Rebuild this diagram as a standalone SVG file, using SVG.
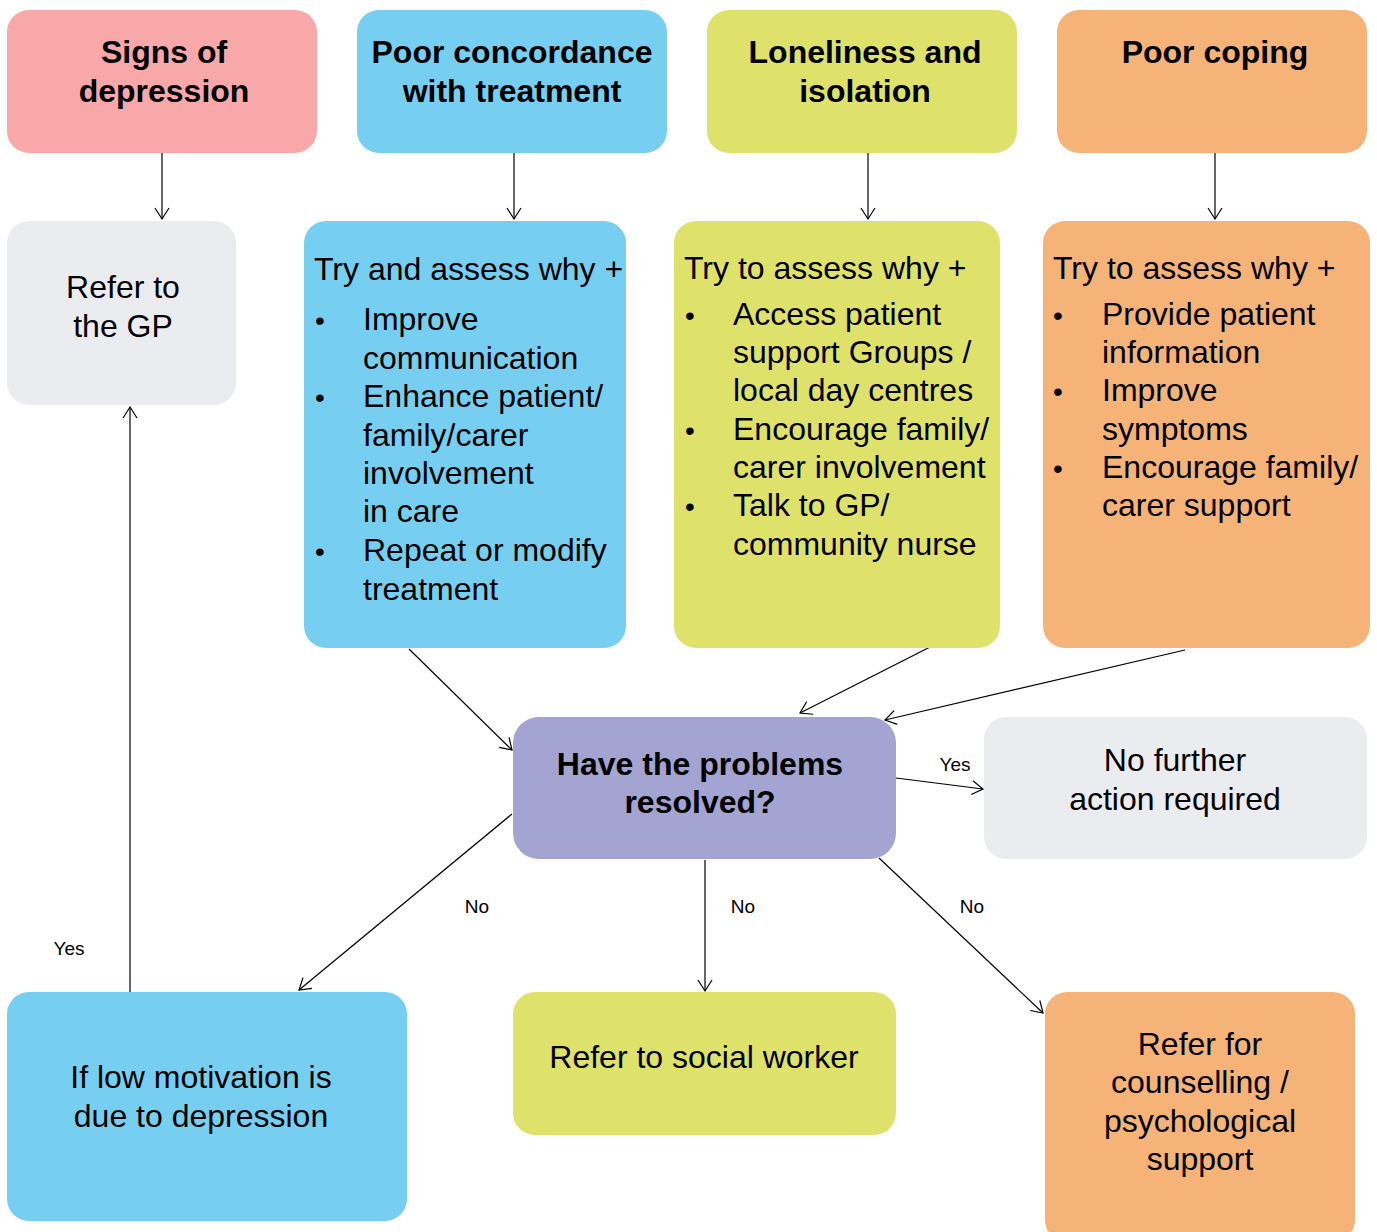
<svg xmlns="http://www.w3.org/2000/svg" width="1377" height="1232" viewBox="0 0 1377 1232">
<style>
.pink{fill:#F9A8AA}.blue{fill:#76CFF0}.green{fill:#DEE26A}.orange{fill:#F6B378}.grey{fill:#EBECF0}.purple{fill:#A3A4D2}
.h{font-family:"Liberation Sans",Arial,sans-serif;font-weight:bold;font-size:32px;fill:#000;text-anchor:middle}
.t{font-family:"Liberation Sans",Arial,sans-serif;font-size:32px;fill:#000}
.b{font-size:28px}
.c{text-anchor:middle}
.l{font-family:"Liberation Sans",Arial,sans-serif;font-size:19px;fill:#000;text-anchor:middle}
.e{stroke:#000;stroke-width:1.2;fill:none;marker-end:url(#a)}
</style>
<defs>
<marker id="a" markerUnits="userSpaceOnUse" markerWidth="14" markerHeight="18" refX="12" refY="8" orient="auto" viewBox="0 0 14 16">
<path d="M1,1 L12,8 L1,15" fill="none" stroke="#000" stroke-width="1.2"/>
</marker>
</defs>
<rect width="1377" height="1232" fill="#fff"/>
<g id="connectors">
<line class="e" x1="162" y1="153" x2="162" y2="219"/>
<line class="e" x1="514" y1="153" x2="514" y2="219"/>
<line class="e" x1="868" y1="153" x2="868" y2="219"/>
<line class="e" x1="1215" y1="153" x2="1215" y2="219"/>
<line class="e" x1="130" y1="992" x2="130" y2="407"/>
<line class="e" x1="409" y1="649" x2="512" y2="750"/>
<line class="e" x1="934" y1="645" x2="800" y2="713"/>
<line class="e" x1="1185" y1="650" x2="885" y2="720"/>
<line class="e" x1="896" y1="778" x2="983" y2="789"/>
<line class="e" x1="512" y1="814" x2="299" y2="990"/>
<line class="e" x1="705" y1="860" x2="705" y2="991"/>
<line class="e" x1="879" y1="858" x2="1043" y2="1013"/>
<text class="l" x="955" y="771">Yes</text>
<text class="l" x="477" y="913">No</text>
<text class="l" x="743" y="913">No</text>
<text class="l" x="972" y="913">No</text>
<text class="l" x="69" y="955">Yes</text>
</g>
<g id="signs">
<rect class="pink" x="7" y="10" width="310" height="143" rx="22"/>
<text class="h" x="164" y="63">Signs of</text>
<text class="h" x="164" y="102">depression</text>
</g>
<g id="concordance">
<rect class="blue" x="357" y="10" width="310" height="143" rx="22"/>
<text class="h" x="512" y="63">Poor concordance</text>
<text class="h" x="512" y="102">with treatment</text>
</g>
<g id="loneliness">
<rect class="green" x="707" y="10" width="310" height="143" rx="22"/>
<text class="h" x="865" y="63">Loneliness and</text>
<text class="h" x="865" y="102">isolation</text>
</g>
<g id="coping">
<rect class="orange" x="1057" y="10" width="310" height="143" rx="22"/>
<text class="h" x="1215" y="63">Poor coping</text>
</g>
<g id="refer-gp">
<rect class="grey" x="7" y="221" width="229" height="184" rx="22"/>
<text class="t c" x="123" y="298">Refer to</text>
<text class="t c" x="123" y="337">the GP</text>
</g>
<g id="assess-concordance">
<rect class="blue" x="304" y="221" width="322" height="427" rx="22"/>
<text class="t" x="314" y="280">Try and assess why +</text>
<text class="t b" x="315" y="330">•</text><text class="t" x="363" y="330">Improve</text>
<text class="t" x="363" y="369">communication</text>
<text class="t b" x="315" y="407">•</text><text class="t" x="363" y="407">Enhance patient/</text>
<text class="t" x="363" y="446">family/carer</text>
<text class="t" x="363" y="484">involvement</text>
<text class="t" x="363" y="522">in care</text>
<text class="t b" x="315" y="561">•</text><text class="t" x="363" y="561">Repeat or modify</text>
<text class="t" x="363" y="600">treatment</text>
</g>
<g id="assess-loneliness">
<rect class="green" x="674" y="221" width="326" height="427" rx="22"/>
<text class="t" x="684" y="279">Try to assess why +</text>
<text class="t b" x="685" y="325">•</text><text class="t" x="733" y="325">Access patient</text>
<text class="t" x="733" y="363">support Groups /</text>
<text class="t" x="733" y="401">local day centres</text>
<text class="t b" x="685" y="440">•</text><text class="t" x="733" y="440">Encourage family/</text>
<text class="t" x="733" y="478">carer involvement</text>
<text class="t b" x="685" y="516">•</text><text class="t" x="733" y="516">Talk to GP/</text>
<text class="t" x="733" y="555">community nurse</text>
</g>
<g id="assess-coping">
<rect class="orange" x="1043" y="221" width="327" height="427" rx="22"/>
<text class="t" x="1053" y="279">Try to assess why +</text>
<text class="t b" x="1053" y="325">•</text><text class="t" x="1102" y="325">Provide patient</text>
<text class="t" x="1102" y="363">information</text>
<text class="t b" x="1053" y="401">•</text><text class="t" x="1102" y="401">Improve</text>
<text class="t" x="1102" y="440">symptoms</text>
<text class="t b" x="1053" y="478">•</text><text class="t" x="1102" y="478">Encourage family/</text>
<text class="t" x="1102" y="516">carer support</text>
</g>
<g id="decision">
<rect class="purple" x="513" y="717" width="383" height="142" rx="26"/>
<text class="h" x="700" y="775">Have the problems</text>
<text class="h" x="700" y="813">resolved?</text>
</g>
<g id="no-further">
<rect class="grey" x="984" y="717" width="383" height="142" rx="22"/>
<text class="t c" x="1175" y="771">No further</text>
<text class="t c" x="1175" y="810">action required</text>
</g>
<g id="low-motivation">
<rect class="blue" x="7" y="992" width="400" height="229" rx="22"/>
<text class="t c" x="201" y="1088">If low motivation is</text>
<text class="t c" x="201" y="1127">due to depression</text>
</g>
<g id="social-worker">
<rect class="green" x="513" y="992" width="383" height="143" rx="22"/>
<text class="t c" x="704" y="1068">Refer to social worker</text>
</g>
<g id="counselling">
<rect class="orange" x="1045" y="992" width="310" height="250" rx="22"/>
<text class="t c" x="1200" y="1055">Refer for</text>
<text class="t c" x="1200" y="1093">counselling /</text>
<text class="t c" x="1200" y="1132">psychological</text>
<text class="t c" x="1200" y="1170">support</text>
</g>
</svg>
